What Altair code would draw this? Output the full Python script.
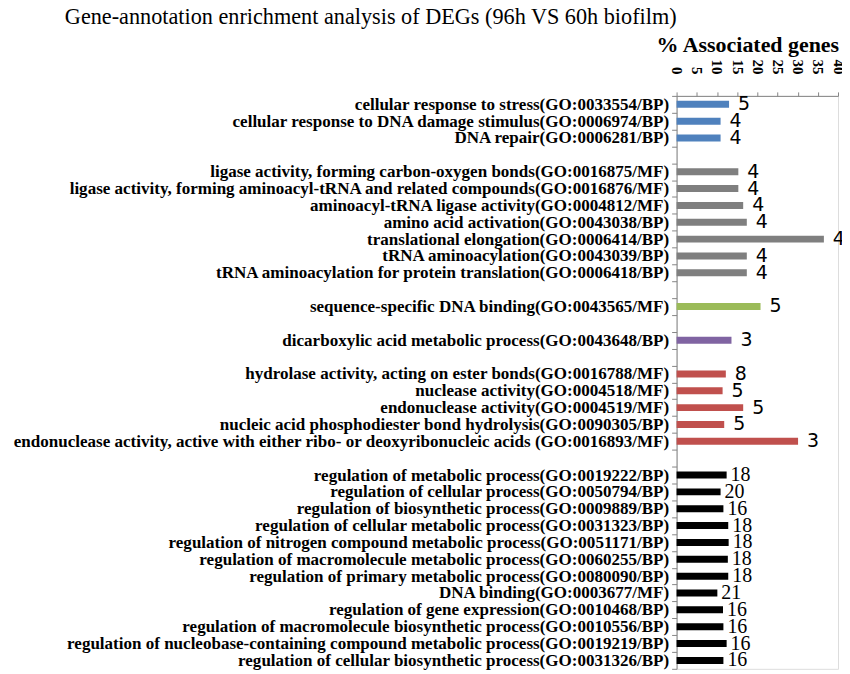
import altair as alt
import pandas as pd

# ---- data ----
groups = ["blue", "gray", "green", "purple", "red", "black"]
group_colors = ["#4F81BD", "#7F7F7F", "#9BBB59", "#8064A2", "#C0504D", "#000000"]

blue_terms = [
    "cellular response to stress(GO:0033554/BP)",
    "cellular response to DNA damage stimulus(GO:0006974/BP)",
    "DNA repair(GO:0006281/BP)",
]
blue_pct = [13.0, 10.9, 10.9]
blue_cnt = [5, 4, 4]

gray_terms = [
    "ligase activity, forming carbon-oxygen bonds(GO:0016875/MF)",
    "ligase activity, forming aminoacyl-tRNA and related  compounds(GO:0016876/MF)",
    "aminoacyl-tRNA ligase activity(GO:0004812/MF)",
    "amino acid activation(GO:0043038/BP)",
    "translational elongation(GO:0006414/BP)",
    "tRNA aminoacylation(GO:0043039/BP)",
    "tRNA aminoacylation for protein translation(GO:0006418/BP)",
]
gray_pct = [15.3, 15.3, 16.5, 17.4, 36.5, 17.4, 17.4]
gray_cnt = [4, 4, 4, 4, 4, 4, 4]

green_terms = ["sequence-specific  DNA binding(GO:0043565/MF)"]
green_pct = [20.8]
green_cnt = [5]

purple_terms = ["dicarboxylic acid metabolic process(GO:0043648/BP)"]
purple_pct = [13.6]
purple_cnt = [3]

red_terms = [
    "hydrolase activity, acting on ester  bonds(GO:0016788/MF)",
    "nuclease activity(GO:0004518/MF)",
    "endonuclease activity(GO:0004519/MF)",
    "nucleic acid phosphodiester bond hydrolysis(GO:0090305/BP)",
    "endonuclease activity, active with either ribo- or deoxyribonucleic acids (GO:0016893/MF)",
]
red_pct = [12.2, 11.4, 16.5, 11.8, 30.1]
red_cnt = [8, 5, 5, 5, 3]

black_terms = [
    "regulation of metabolic process(GO:0019222/BP)",
    "regulation of cellular process(GO:0050794/BP)",
    "regulation of biosynthetic process(GO:0009889/BP)",
    "regulation of cellular metabolic process(GO:0031323/BP)",
    "regulation of nitrogen compound metabolic process(GO:0051171/BP)",
    "regulation of macromolecule metabolic process(GO:0060255/BP)",
    "regulation of primary metabolic process(GO:0080090/BP)",
    "DNA binding(GO:0003677/MF)",
    "regulation of gene expression(GO:0010468/BP)",
    "regulation of macromolecule biosynthetic process(GO:0010556/BP)",
    "regulation of nucleobase-containing compound metabolic process(GO:0019219/BP)",
    "regulation of cellular biosynthetic process(GO:0031326/BP)",
]
black_pct = [12.4, 10.9, 11.6, 12.8, 12.9, 12.7, 12.8, 10.1, 11.5, 11.6, 12.4, 11.6]
black_cnt = [18, 20, 16, 18, 18, 18, 18, 21, 16, 16, 16, 16]

x_ticks = [0, 5, 10, 15, 20, 25, 30, 35, 40]

# ---- build table ----
term_lists = [blue_terms, gray_terms, green_terms, purple_terms, red_terms, black_terms]
pct_lists = [blue_pct, gray_pct, green_pct, purple_pct, red_pct, black_pct]
cnt_lists = [blue_cnt, gray_cnt, green_cnt, purple_cnt, red_cnt, black_cnt]

rows = []
domain = []
for gi, (g, terms, pcts, cnts) in enumerate(zip(groups, term_lists, pct_lists, cnt_lists)):
    if gi > 0:
        domain.append(f"gap{gi}")
    for t, p, c in zip(terms, pcts, cnts):
        rows.append({"term": t, "pct": p, "count": c, "group": g})
        domain.append(t)
df = pd.DataFrame(rows)

serif = "Liberation Serif"

y_scale = alt.Scale(domain=domain, paddingInner=0, paddingOuter=0)
x_scale = alt.Scale(domain=[0, 40], nice=False)

y_axis = alt.Axis(
    title=None,
    labelExpr="indexof(datum.label, 'gap') == 0 ? '' : datum.label",
    labelFont=serif,
    labelFontWeight="bold",
    labelFontSize=17.1,
    labelColor="black",
    labelLimit=700,
    labelPadding=3,
    labelOverlap=False,
    tickBand="extent",
    tickSize=5,
    tickColor="#868686",
    domainColor="#868686",
    grid=False,
)

x_axis = alt.Axis(
    orient="top",
    values=x_ticks,
    tickCount=9,
    title="% Associated genes",
    titleFont=serif,
    titleFontWeight="bold",
    titleFontSize=22,
    titleColor="black",
    titlePadding=3,
    titleX=71,
    labelAngle=90,
    labelFont=serif,
    labelFontWeight="bold",
    labelFontSize=15,
    labelColor="black",
    labelPadding=18,
    labelOverlap=False,
    labelBound=False,
    labelFlush=False,
    tickSize=4,
    tickColor="#868686",
    domainColor="#868686",
    grid=False,
)

x_enc = alt.X("pct:Q", scale=x_scale, axis=x_axis)
y_enc = alt.Y("term:N", scale=y_scale, axis=y_axis)

color_enc = alt.Color(
    "group:N", scale=alt.Scale(domain=groups, range=group_colors), legend=None
)

bars = alt.Chart(df).mark_bar(size=7).encode(x=x_enc, y=y_enc, color=color_enc)

labels_sans = (
    alt.Chart(df)
    .transform_filter("datum.group != 'black'")
    .mark_text(align="left", baseline="middle", dx=9, font="DejaVu Sans", fontSize=19, color="black")
    .encode(x=x_enc, y=y_enc, text="count:Q")
)
labels_serif = (
    alt.Chart(df)
    .transform_filter("datum.group == 'black'")
    .mark_text(align="left", baseline="middle", dx=4, font=serif, fontSize=20, color="black")
    .encode(x=x_enc, y=y_enc, text="count:Q")
)

chart = (
    alt.layer(bars, labels_sans, labels_serif)
    .properties(
        width=162,
        height=575,
        autosize=alt.AutoSizeParams(type="none"),
        padding={"left": 671, "top": 87, "right": 4, "bottom": 4},
        title=alt.Title(
            "Gene-annotation enrichment analysis of DEGs (96h VS 60h biofilm)",
            font=serif,
            fontSize=22.3,
            fontWeight="normal",
            color="black",
            anchor="middle",
            frame="group",
            dx=-388,
            offset=5,
        ),
    )
    .configure_view(stroke=None)
    .configure(background="white")
)

chart.save("out.html", embed_options={"renderer": "svg", "actions": False})
